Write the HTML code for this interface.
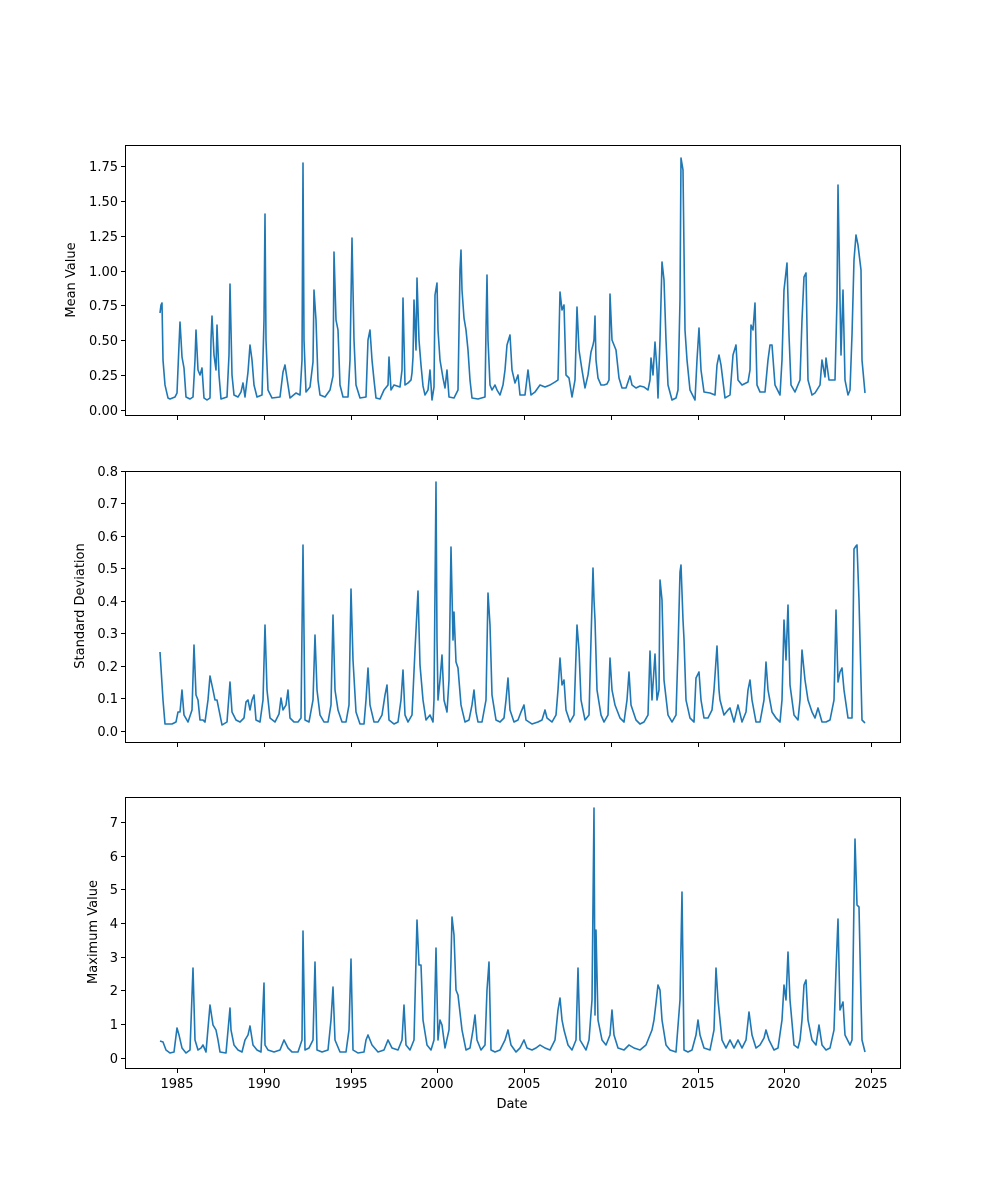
<!DOCTYPE html>
<html><head><meta charset="utf-8"><style>
body{margin:0;background:#fff}
svg{display:block}
text{font-family:"DejaVu Sans","Liberation Sans",sans-serif;font-size:13px;fill:#000}
.l{fill:none;stroke:#1f77b4;stroke-width:1.6;stroke-linejoin:round}
.ax{fill:none;stroke:#000;stroke-width:1}
</style></head><body>
<svg width="1000" height="1200" viewBox="0 0 1000 1200">
<rect width="1000" height="1200" fill="#fff"/>
<rect class="ax" x="125.5" y="145.5" width="775" height="270"/>
<rect class="ax" x="125.5" y="471.5" width="775" height="271"/>
<rect class="ax" x="125.5" y="797.5" width="775" height="271"/>

<g stroke="#000" stroke-width="1">
<path d="M177.5 416v4M264.5 416v4M351.5 416v4M437.5 416v4M524.5 416v4M611.5 416v4M698.5 416v4M784.5 416v4M871.5 416v4"/>
<path d="M177.5 743v4M264.5 743v4M351.5 743v4M437.5 743v4M524.5 743v4M611.5 743v4M698.5 743v4M784.5 743v4M871.5 743v4"/>
<path d="M177.5 1069v4M264.5 1069v4M351.5 1069v4M437.5 1069v4M524.5 1069v4M611.5 1069v4M698.5 1069v4M784.5 1069v4M871.5 1069v4"/>
<path d="M121 410.5h4M121 375.5h4M121 340.5h4M121 305.5h4M121 271.5h4M121 236.5h4M121 201.5h4M121 166.5h4"/>
<path d="M121 731.5h4M121 698.5h4M121 666.5h4M121 633.5h4M121 601.5h4M121 568.5h4M121 536.5h4M121 503.5h4M121 471.5h4"/>
<path d="M121 1058.5h4M121 1024.5h4M121 990.5h4M121 957.5h4M121 923.5h4M121 889.5h4M121 856.5h4M121 822.5h4"/>
</g>
<g text-anchor="middle">
<text x="177" y="1088">1985</text><text x="264" y="1088">1990</text><text x="351" y="1088">1995</text><text x="437" y="1088">2000</text><text x="524" y="1088">2005</text><text x="611" y="1088">2010</text><text x="698" y="1088">2015</text><text x="784" y="1088">2020</text><text x="871" y="1088">2025</text>
<text x="512" y="1108">Date</text>
</g>
<g text-anchor="end">
<text x="118" y="415">0.00</text><text x="118" y="380">0.25</text><text x="118" y="345">0.50</text><text x="118" y="310">0.75</text><text x="118" y="276">1.00</text><text x="118" y="241">1.25</text><text x="118" y="206">1.50</text><text x="118" y="171">1.75</text>
<text x="118" y="736">0.0</text><text x="118" y="703">0.1</text><text x="118" y="671">0.2</text><text x="118" y="638">0.3</text><text x="118" y="606">0.4</text><text x="118" y="573">0.5</text><text x="118" y="541">0.6</text><text x="118" y="508">0.7</text><text x="118" y="476">0.8</text>
<text x="118" y="1063">0</text><text x="118" y="1029">1</text><text x="118" y="995">2</text><text x="118" y="962">3</text><text x="118" y="928">4</text><text x="118" y="894">5</text><text x="118" y="861">6</text><text x="118" y="827">7</text>
</g>
<text transform="translate(75 280) rotate(-90)" text-anchor="middle">Mean Value</text>
<text transform="translate(84 606) rotate(-90)" text-anchor="middle">Standard Deviation</text>
<text transform="translate(97 932) rotate(-90)" text-anchor="middle">Maximum Value</text>

<polyline class="l" points="160,313 161,305 162,303 163,360 165,385 168,398 170,399 175,397 177,393 179,345 180,322 181,339 182,357 184,368 186,397 190,399 193,397 195,360 196,330 198,370 200,375 202,368 204,398 207,400 210,398 211,340 212,316 214,355 216,370 217,325 219,375 221,399 227,397 229,355 230,284 232,375 234,395 238,397 241,392 243,383 245,397 248,372 250,345 252,360 254,385 257,397 262,395 264,320 265,214 266,340 268,390 272,398 280,397 283,372 285,365 288,385 290,398 296,393 300,395 302,360 303,163 304,340 306,392 310,387 313,362 314,290 316,320 318,380 320,395 325,397 330,390 333,376 334,252 336,320 338,330 340,385 343,397 348,397 350,360 352,238 354,340 356,385 360,398 366,397 368,340 370,330 372,360 374,380 376,398 380,399 384,390 388,385 389,357 391,390 394,385 400,387 402,370 403,298 405,385 408,383 411,380 412,373 413,357 414,300 416,350 417,278 419,340 421,365 423,386 425,395 428,390 430,370 432,400 434,387 435,295 437,283 438,330 440,360 443,378 445,388 447,370 449,397 454,398 458,390 460,270 461,250 462,290 464,318 466,330 468,350 470,380 472,398 478,399 485,397 486,330 487,275 488,340 490,385 492,390 495,385 497,390 500,395 503,385 505,370 507,345 510,335 512,370 515,383 518,375 520,395 525,395 528,370 531,395 535,392 540,385 545,387 550,385 555,382 558,380 560,292 562,310 564,305 566,375 569,378 572,397 575,380 577,307 579,350 582,370 585,388 588,375 591,352 593,345 594,340 595,316 596,360 598,378 601,385 604,385 607,384 609,380 610,294 612,340 614,345 616,350 619,378 622,388 626,388 628,382 630,376 632,385 636,388 640,386 644,387 648,390 650,380 651,358 653,375 655,342 657,370 658,398 660,340 662,262 664,280 666,340 668,385 672,400 676,398 678,390 680,300 681,158 683,170 685,330 687,360 690,390 695,400 697,360 699,328 701,370 704,392 710,393 715,395 717,365 719,355 721,365 725,398 730,395 733,355 736,345 738,380 742,385 748,382 750,370 751,325 753,330 755,303 757,385 760,392 765,392 768,360 770,345 772,345 775,385 780,395 782,360 784,290 787,263 789,335 791,385 795,392 800,380 802,320 804,277 806,273 808,380 812,395 815,393 820,385 822,360 825,377 826,358 829,380 835,380 837,300 838,185 840,300 841,355 843,290 845,380 848,395 850,390 852,335 854,260 856,235 858,245 861,270 862,360 865,393"/>

<polyline class="l" points="160,652 163,700 165,724 172,724 176,722 178,712 180,712 182,690 184,715 188,722 192,710 194,645 196,695 198,700 200,720 203,720 205,722 208,700 210,676 213,690 215,700 217,700 219,710 222,725 227,722 230,682 232,712 236,720 240,722 244,718 246,702 248,700 250,710 252,700 254,695 256,720 260,722 263,700 265,625 267,690 270,718 275,722 279,714 281,698 283,710 286,705 288,690 290,718 294,722 298,722 301,718 303,545 305,720 309,722 313,700 315,635 317,690 320,715 324,722 328,722 331,705 333,615 335,690 338,710 342,722 346,722 349,705 351,589 353,660 356,712 360,724 364,724 366,700 368,668 370,705 374,722 378,722 382,715 385,695 387,685 389,720 394,724 398,722 401,700 403,670 405,715 408,722 412,715 415,650 418,591 420,665 423,700 426,720 430,715 433,722 434,700 436,482 437,640 438,700 440,680 442,655 444,700 447,712 449,680 451,547 453,640 454,612 456,662 458,668 461,705 465,722 469,720 472,705 474,690 476,712 478,722 482,722 486,700 488,593 490,625 492,695 496,720 500,722 504,718 506,700 508,678 510,710 514,722 518,720 521,712 524,705 526,720 532,724 538,722 542,720 545,710 547,718 552,722 556,715 558,690 560,658 562,685 564,680 566,710 570,722 574,715 577,625 579,650 581,700 585,720 589,715 591,640 593,568 594,600 595,620 597,690 601,715 604,722 608,715 610,658 612,690 615,705 620,718 624,722 627,700 629,672 631,705 636,720 640,724 644,722 648,715 650,651 652,700 655,654 657,700 659,690 660,580 662,600 664,680 668,715 672,722 676,715 678,650 680,572 681,565 683,620 684,639 686,700 690,718 694,722 696,678 699,672 701,700 704,718 708,718 712,710 714,690 717,646 719,690 720,700 724,715 728,710 730,708 734,722 738,705 742,722 746,712 748,690 750,680 752,700 756,722 760,722 764,700 766,662 768,690 772,712 776,718 780,722 782,700 784,620 786,660 788,605 790,685 794,715 798,720 800,700 802,650 804,670 805,680 808,700 812,712 815,718 818,708 822,722 826,722 830,720 834,700 836,610 838,682 840,672 842,668 844,690 848,718 852,718 854,549 856,546 857,545 859,600 860,640 862,720 865,723"/>

<polyline class="l" points="160,1041 163,1042 166,1050 170,1053 174,1052 177,1028 179,1035 182,1048 186,1053 190,1050 193,968 195,1040 198,1050 201,1048 203,1045 206,1052 210,1005 213,1025 216,1030 218,1040 220,1052 226,1053 230,1008 231,1030 234,1045 238,1050 242,1052 245,1040 248,1035 250,1026 253,1045 257,1050 261,1052 262,1030 264,983 265,1045 268,1050 274,1052 280,1050 284,1040 288,1048 292,1052 298,1052 302,1040 303,931 305,1050 309,1048 313,1040 315,962 317,1050 322,1052 328,1050 331,1020 333,987 335,1040 340,1052 346,1052 349,1030 351,959 353,1050 358,1053 364,1052 366,1040 368,1035 372,1045 378,1052 384,1050 388,1040 392,1048 398,1050 402,1040 404,1005 406,1045 410,1050 414,1040 416,960 417,920 419,965 421,965 423,1020 427,1045 431,1050 434,1040 436,948 438,1040 440,1020 442,1025 445,1048 449,1030 451,960 452,917 454,935 456,990 458,995 462,1030 466,1050 470,1048 473,1030 475,1015 477,1040 481,1050 485,1045 487,990 489,962 491,1050 495,1052 500,1050 505,1040 508,1030 511,1045 516,1052 520,1048 524,1040 527,1048 532,1050 536,1048 540,1045 545,1048 550,1050 555,1040 558,1010 560,998 562,1020 564,1030 568,1045 572,1050 576,1040 578,968 580,1040 583,1045 586,1050 589,1040 592,1000 594,808 595,1015 596,930 598,1020 602,1040 606,1045 610,1035 612,1010 614,1035 618,1048 624,1050 629,1045 634,1048 640,1050 646,1045 652,1030 654,1020 656,1003 658,985 660,990 662,1020 666,1045 670,1050 676,1052 680,1000 682,892 684,1050 688,1052 692,1050 696,1035 698,1020 700,1035 704,1048 710,1050 714,1030 716,968 718,1000 722,1040 726,1048 730,1040 734,1048 738,1040 742,1048 746,1040 749,1012 752,1035 756,1048 760,1045 764,1038 766,1030 769,1040 774,1050 778,1048 782,1020 784,985 786,1000 788,952 790,1000 794,1045 798,1048 800,1040 802,1020 804,985 806,980 808,1020 812,1040 816,1045 819,1025 822,1045 826,1050 830,1048 834,1030 836,970 838,919 840,1010 843,1002 845,1035 850,1045 852,1040 854,900 855,839 857,905 859,907 861,1000 862,1040 865,1052"/>
</svg>
</body></html>
